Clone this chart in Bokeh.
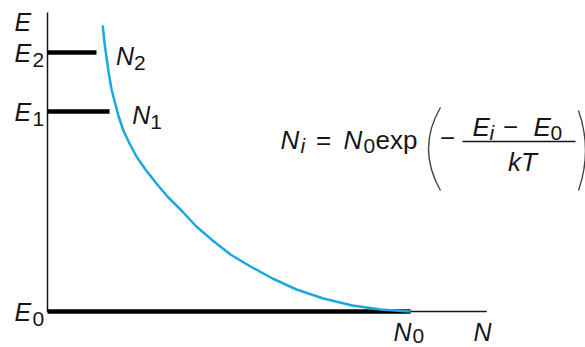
from bokeh.plotting import figure
from bokeh.models import Range1d
from bokeh.core.properties import value
from bokeh.embed import file_html
from bokeh.resources import INLINE

# Population N (in units of N0) at energy E (above E0) along the Boltzmann curve
curve_N = [0.152, 0.157, 0.163, 0.168, 0.176, 0.185, 0.196, 0.209, 0.226,
           0.245, 0.270, 0.300, 0.333, 0.369, 0.410, 0.455, 0.504, 0.559,
           0.620, 0.686, 0.760, 0.840, 0.917, 1.000]
curve_E = [2.86, 2.69, 2.53, 2.40, 2.23, 2.10, 1.95, 1.81, 1.68,
           1.55, 1.42, 1.28, 1.14, 1.01, 0.85, 0.71, 0.57, 0.45,
           0.33, 0.22, 0.13, 0.06, 0.02, 0.00]

# Energy levels E0, E1, E2 and the length of their markers
level_sub = ["0", "1", "2"]
level_E = [0.00, 2.00, 2.59]
level_bar = [1.000, 0.171, 0.135]
# populations N1, N2 where the curve crosses E1, E2
pop_sub = ["1", "2"]
pop_E = [2.00, 2.59]
pop_N = [0.192, 0.161]

axis_E_max = 2.99
axis_N_max = 1.21

W, H = 585, 347
PX_N, PX_E = 363.0, 100.0        # pixels per unit of N and of E
ORIG_X, ORIG_Y = 47, 311          # pixel position of the origin
LIFT = 9                          # pull text baselines up (pixels)


def X(px):
    return (px - ORIG_X) / PX_N


def Y(py):
    return (ORIG_Y - py) / PX_E


p = figure(width=W, height=H, output_backend="svg", toolbar_location=None,
           x_range=Range1d(X(0), X(W)), y_range=Range1d(Y(H), Y(0)),
           min_border=0, x_axis_location=None, y_axis_location=None)
p.grid.visible = False
p.outline_line_color = None
p.background_fill_color = "white"
p.border_fill_color = "white"

FONT = value("Liberation Sans")
INK = "#161616"
SIZE = 25
SUB = 21
FSIZE = 26
FSUB = 21


def txt(x, y, s, size=SIZE, italic=True, align="left"):
    p.text(x=[x], y=[y + LIFT / PX_E], text=[s], text_font=FONT,
           text_font_style="italic" if italic else "normal",
           text_font_size=f"{size}px", text_align=align,
           text_baseline="alphabetic", text_color=INK)


# axes
p.segment(x0=[0, 0], y0=[0, 0], x1=[0, axis_N_max], y1=[axis_E_max, 0],
          line_color=INK, line_width=1.5)

# level markers
p.segment(x0=[0] * len(level_E), y0=level_E, x1=level_bar, y1=level_E,
          line_color="black", line_width=4.5)

# Boltzmann curve
p.line(curve_N, curve_E, line_color="#1CA7E3", line_width=2.5)

# energy labels
txt(X(14), axis_E_max - 18 / PX_E, "E")
for s, e in zip(level_sub, level_E):
    txt(X(14), e - 9 / PX_E, "E")
    txt(X(32), e - 16 / PX_E, s, size=SUB, italic=False)

# population labels
pop_dx = [15, 10]
for s, e, n, d in zip(pop_sub, pop_E, pop_N, pop_dx):
    txt(n + d / PX_N, e - 12 / PX_E, "N")
    txt(n + (d + 18) / PX_N, e - 19 / PX_E, s, size=SUB, italic=False)

txt(level_bar[0] - 17 / PX_N, -29 / PX_E, "N")
txt(level_bar[0] + 2 / PX_N, -33 / PX_E, "0", size=SUB, italic=False)
txt(X(473), -29 / PX_E, "N")

# formula  N_i = N_0 exp(-(E_i - E_0)/kT)
base = 148
txt(X(280), Y(base), "N", size=FSIZE)
txt(X(300), Y(base + 6), "i", size=FSUB)
txt(X(323), Y(base), "=", size=FSIZE, italic=False, align="center")
txt(X(343), Y(base), "N", size=FSIZE)
txt(X(363), Y(base + 6), "0", size=FSUB, italic=False)
txt(X(375), Y(base), "exp", size=FSIZE, italic=False)
txt(X(447), Y(base - 2), "\u2212", size=FSIZE, italic=False, align="center")
num, den = 135, 170
txt(X(472), Y(num), "E", size=FSIZE)
txt(X(489), Y(num + 6), "i", size=FSUB)
txt(X(510), Y(num), "\u2212", size=FSIZE, italic=False, align="center")
txt(X(533), Y(num), "E", size=FSIZE)
txt(X(550), Y(num + 6), "0", size=FSUB, italic=False)
txt(X(522), Y(den), "kT", size=FSIZE, align="center")
p.segment(x0=[X(462)], y0=[Y(141)], x1=[X(575)], y1=[Y(141)],
          line_color=INK, line_width=1.5)
# large parentheses
p.quadratic(x0=[X(440), X(578)], y0=[Y(107), Y(110)],
            x1=[X(440), X(578)], y1=[Y(190), Y(190)],
            cx=[X(416), X(592)], cy=[Y(148), Y(150)],
            line_color="#444444", line_width=1.4)

open("out.html", "w").write(file_html(p, INLINE))
